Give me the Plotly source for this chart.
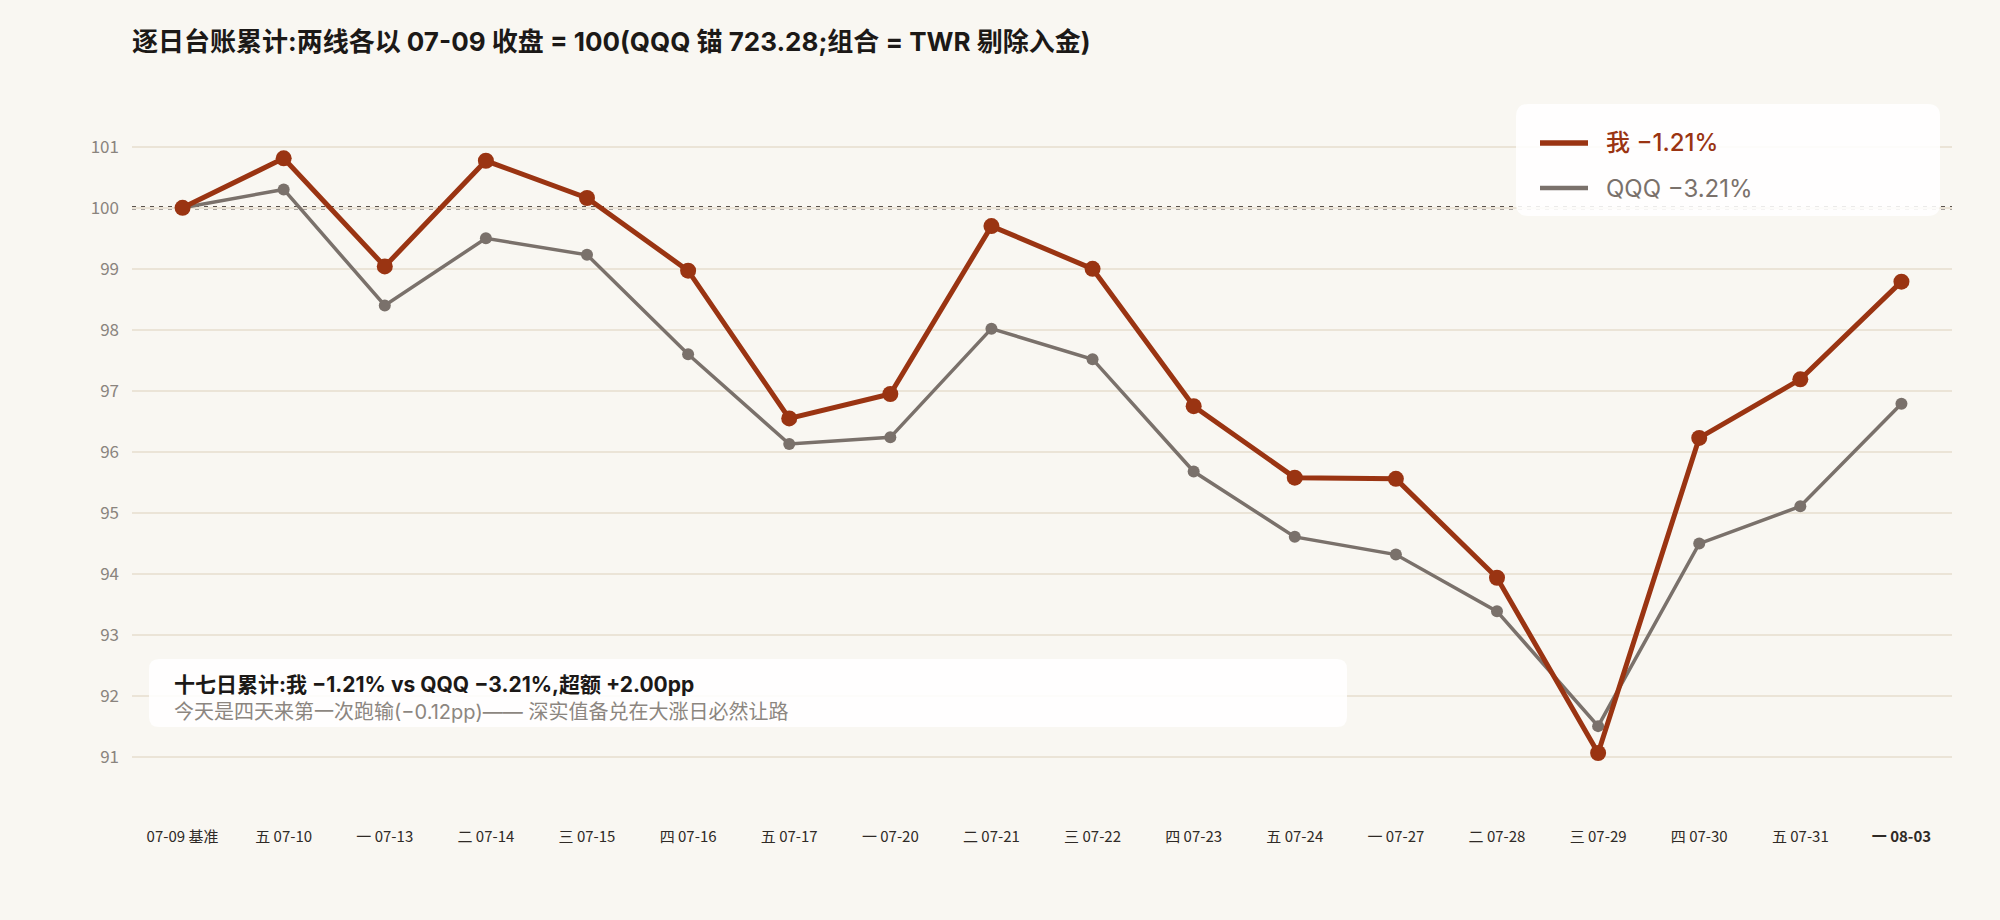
import plotly.graph_objects as go

# data
days = ["07-09", "07-10", "07-13", "07-14", "07-15", "07-16", "07-17", "07-20", "07-21",
        "07-22", "07-23", "07-24", "07-27", "07-28", "07-29", "07-30", "07-31", "08-03"]
weekdays = ["", "五", "一", "二", "三", "四", "五", "一", "二",
            "三", "四", "五", "一", "二", "三", "四", "五", "一"]
me = [100.0, 100.81, 99.04, 100.77, 100.16, 98.97, 96.55, 96.95, 99.70,
      99.0, 96.75, 95.58, 95.56, 93.94, 91.07, 96.23, 97.19, 98.79]
qqq = [100.0, 100.30, 98.40, 99.50, 99.23, 97.60, 96.13, 96.24, 98.02,
       97.52, 95.68, 94.61, 94.32, 93.39, 91.51, 94.50, 95.11, 96.79]
y_ticks = [91, 92, 93, 94, 95, 96, 97, 98, 99, 100, 101]

title = "逐日台账累计:两线各以 07-09 收盘 = 100(QQQ 锚 723.28;组合 = TWR 剔除入金)"
legend_me = "我 −1.21%"
legend_qqq = "QQQ −3.21%"
note_main = "十七日累计:我 −1.21% vs QQQ −3.21%,超额 +2.00pp"
note_sub = "今天是四天来第一次跑输(−0.12pp)—— 深实值备兑在大涨日必然让路"

RED = "#9a3412"
GREY = "#7a716b"
BG = "#f9f7f2"
GRID = "#ebe4d7"
FONT = "Noto Sans CJK SC, Noto Sans, sans-serif"
TEXT_FONT = "Inter, Noto Sans CJK SC, sans-serif"

W, H = 2000, 920
L, R, T, B = 132, 48, 104, 120


def px(x):
    return (x - L) / (W - L - R)


def py(y):
    return (H - B - y) / (H - T - B)


def round_box(x0, y0, x1, y1, r):
    # rounded rectangle given in page pixels, returned as a paper-coords path
    rx = r / (W - L - R)
    ry = r / (H - T - B)
    a0, a1 = px(x0), px(x1)
    b0, b1 = py(y1), py(y0)
    return (f"M{a0 + rx},{b0} L{a1 - rx},{b0} Q{a1},{b0} {a1},{b0 + ry} "
            f"L{a1},{b1 - ry} Q{a1},{b1} {a1 - rx},{b1} L{a0 + rx},{b1} "
            f"Q{a0},{b1} {a0},{b1 - ry} L{a0},{b0 + ry} Q{a0},{b0} {a0 + rx},{b0} Z")


labels = ["07-09 基准"] + [f"{w} {d}" for w, d in zip(weekdays[1:], days[1:])]
labels[-1] = f"<b>{labels[-1]}</b>"
xs = list(range(len(days)))

fig = go.Figure()
fig.add_trace(go.Scatter(x=xs, y=qqq, mode="lines+markers", name=legend_qqq,
                         line=dict(color=GREY, width=3.5),
                         marker=dict(color=GREY, size=12)))
fig.add_trace(go.Scatter(x=xs, y=me, mode="lines+markers", name=legend_me,
                         line=dict(color=RED, width=5),
                         marker=dict(color=RED, size=16)))

# baseline 100
fig.add_shape(type="line", xref="paper", x0=0, x1=1, yref="y", y0=100, y1=100,
              line=dict(color="#5a524c", width=3.5, dash="4px,5px"), layer="between")

# legend box
fig.add_shape(type="path", xref="paper", yref="paper", path=round_box(1516, 104, 1940, 216, 12),
              fillcolor="rgba(255,255,255,0.88)", line=dict(width=0), layer="above")
fig.add_shape(type="line", xref="paper", yref="paper", x0=px(1540), x1=px(1588), y0=py(143), y1=py(143),
              line=dict(color=RED, width=5.5), layer="above")
fig.add_shape(type="line", xref="paper", yref="paper", x0=px(1540), x1=px(1588), y0=py(188), y1=py(188),
              line=dict(color=GREY, width=4.5), layer="above")
fig.add_annotation(xref="paper", yref="paper", x=px(1604), y=py(143), xanchor="left", yanchor="middle",
                   text=legend_me, showarrow=False, font=dict(family=TEXT_FONT, size=24, color=RED, weight=500))
fig.add_annotation(xref="paper", yref="paper", x=px(1604), y=py(188), xanchor="left", yanchor="middle",
                   text=legend_qqq, showarrow=False, font=dict(family=TEXT_FONT, size=24, color=GREY))

# note box
fig.add_shape(type="path", xref="paper", yref="paper", path=round_box(149, 659, 1347, 727, 10),
              fillcolor="rgba(255,255,255,0.88)", line=dict(width=0), layer="above")
fig.add_annotation(xref="paper", yref="paper", x=px(172), y=py(684), xanchor="left", yanchor="middle",
                   text=f"<b>{note_main}</b>", showarrow=False, font=dict(family=TEXT_FONT, size=21, color="#1c1917"))
fig.add_annotation(xref="paper", yref="paper", x=px(172), y=py(712), xanchor="left", yanchor="middle",
                   text=note_sub, showarrow=False, font=dict(family=TEXT_FONT, size=20, color="#8c8680"))

fig.update_layout(
    width=W, height=H,
    margin=dict(l=L, r=R, t=T, b=B),
    paper_bgcolor=BG, plot_bgcolor=BG,
    showlegend=False,
    font=dict(family=FONT),
    title=dict(text=f"<b>{title}</b>", x=L / W, xanchor="left",
               xref="container", y=1 - 42 / H, yanchor="middle",
               font=dict(family=TEXT_FONT, size=26, color="#1c1917")),
)
fig.update_xaxes(range=[-0.5, len(days) - 0.5], tickmode="array", tickvals=xs, ticktext=labels,
                 showgrid=False, zeroline=False, showline=False, ticks="",
                 ticklabelstandoff=26, tickfont=dict(family=FONT, size=15, color="#2f2a26"))
fig.update_yaxes(range=[90.3, 101.7], tickmode="array", tickvals=y_ticks,
                 showgrid=True, gridcolor=GRID, gridwidth=2, zeroline=False, showline=False,
                 ticks="", ticklabelstandoff=12, tickfont=dict(family=FONT, size=17, color="#8a847e"))

fig.write_html("out.html", config={"displayModeBar": False},
               post_script="document.body.style.margin='0';")
